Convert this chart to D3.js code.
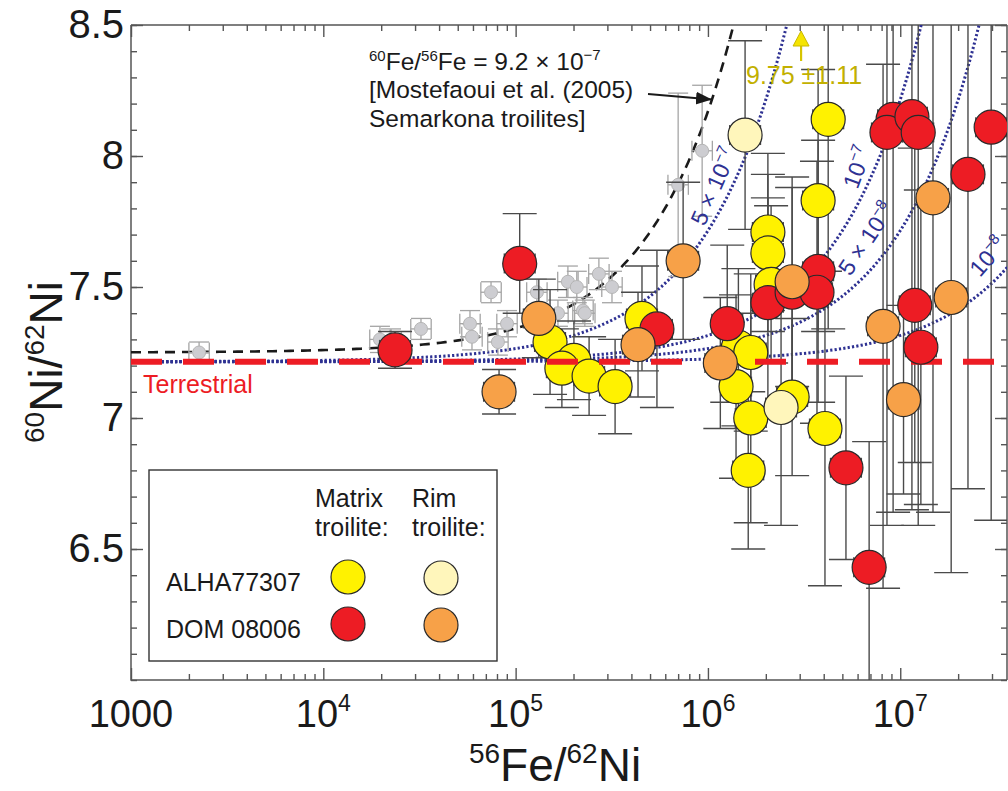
<!DOCTYPE html>
<html>
<head>
<meta charset="utf-8">
<script src="https://cdn.jsdelivr.net/npm/d3@7"></script>
<style>
  body { margin: 0; background: #fff; }
  svg { display: block; font-family: "Liberation Sans", Arial, sans-serif; }
</style>
</head>
<body>
<div id="chart"></div>
<script>
// 60Ni/62Ni vs 56Fe/62Ni in troilites

const width = 1008;
const height = 791;
const plot = {left: 131, right: 1007, top: 25, bottom: 680};

// tick labels
const feNiTicks = [1e3, 1e4, 1e5, 1e6, 1e7];
const niTicks = [6.5, 7, 7.5, 8, 8.5];

// reference lines
const terrestrialNi = 7.215;
const semarkonaSlope = 9.2e-7;
const semarkonaInitial = 7.25;
const isoSlopes = [5e-7, 1e-7, 5e-8, 1e-8];
const isoMant = ["5 × 10", "10", "5 × 10", "10"];
const isoExp = ["−7", "−7", "−8", "−8"];
const isoLabelFe = [9.6e5, 6.0e6, 5.5e6, 2.6e7];
const isoLabelNi = [7.729, 7.870, 7.538, 7.534];
const isoLabelAngle = [-66, -70, -56, -49];

// ALHA77307 matrix troilite
const alhaMatrixFe = [4.22e6, 3.74e6, 2.05e6, 2.05e6, 2.13e6, 1.44e6, 1.67e6, 1.40e6, 1.67e6, 1.62e6, 2.74e6, 4.06e6,
                      4.54e5, 1.51e5, 2.01e5, 1.74e5, 2.41e5, 3.29e5];
const alhaMatrixNi = [8.14, 7.83, 7.71, 7.63, 7.51, 7.27, 7.25, 7.12, 7.00, 6.80, 7.08, 6.96,
                      7.38, 7.29, 7.22, 7.19, 7.16, 7.12];
const alhaMatrixErr = [0.8, 0.5, 0.3, 0.3, 0.3, 0.3, 0.3, 0.35, 0.4, 0.3, 0.3, 0.6,
                       0.2, 0.2, 0.15, 0.15, 0.15, 0.18];

// ALHA77307 rim troilite
const alhaRimFe = [1.56e6, 2.40e6];
const alhaRimNi = [8.08, 7.04];
const alhaRimErr = [0.36, 0.45];

// DOM 08006 matrix troilite
const domMatrixFe = [1.05e5, 2.36e4, 5.43e5, 1.26e6, 2.05e6, 2.74e6, 3.74e6, 3.69e6, 5.22e6, 6.89e6,
                     9.18e6, 8.53e6, 1.15e7, 1.24e7, 2.97e7, 2.25e7, 1.19e7, 1.28e7];
const domMatrixNi = [7.59, 7.26, 7.34, 7.36, 7.44, 7.48, 7.56, 7.48, 6.81, 6.43,
                     8.14, 8.09, 8.15, 8.09, 8.11, 7.93, 7.43, 7.27];
const domMatrixErr = [0.19, 0.07, 0.3, 0.3, 0.4, 0.4, 0.5, 0.5, 0.35, 0.48,
                      1.5, 1.5, 1.5, 1.5, 1.5, 1.2, 0.6, 0.6];

// DOM 08006 rim troilite
const domRimFe = [7.43e5, 1.32e5, 8.2e4, 4.33e5, 1.16e6, 2.74e6, 1.48e7, 1.84e7, 8.14e6, 1.04e7];
const domRimNi = [7.60, 7.38, 7.10, 7.28, 7.21, 7.52, 7.84, 7.46, 7.35, 7.07];
const domRimErr = [0.3, 0.15, 0.085, 0.2, 0.25, 0.4, 1.2, 1.05, 1.0, 0.36];

// Semarkona troilites (Mostefaoui et al. 2005)
const semFe = [2260, 19700, 22500, 32200, 57900, 59300, 74500, 80900, 90200, 129000,
               166000, 187000, 208000, 224000, 229000, 271000, 317000, 700000, 933000];
const semNi = [7.25, 7.30, 7.29, 7.34, 7.36, 7.31, 7.48, 7.29, 7.36, 7.48,
               7.40, 7.52, 7.50, 7.41, 7.40, 7.55, 7.50, 7.89, 8.02];
const semErr = [0.04, 0.05, 0.05, 0.04, 0.05, 0.05, 0.04, 0.05, 0.05, 0.05,
                0.05, 0.06, 0.06, 0.05, 0.05, 0.06, 0.06, 0.35, 0.25];

// off-scale point
const offFe = 3.05e6;
const offLabel = "9.75 ±1.11";

const svg = d3.select("#chart").append("svg")
  .attr("width", width)
  .attr("height", height);

const x = d3.scaleLog().domain([1000, 3.59e7]).range([plot.left, plot.right]);
const y = d3.scaleLinear().domain([6.0, 8.5]).range([plot.bottom, plot.top]);

svg.append("clipPath").attr("id", "clip")
  .append("rect")
  .attr("x", plot.left).attr("y", plot.top)
  .attr("width", plot.right - plot.left).attr("height", plot.bottom - plot.top);

/* axes */

const xMinor = [];
feNiTicks.forEach(d => { for (let k = 2; k < 10; k++) if (d * k < 3.59e7) xMinor.push(d * k); });
const yMinor = d3.range(60, 86).map(v => v / 10);

function styleAxis(g) {
  g.select(".domain").remove();
  g.selectAll("line").attr("stroke", "#555").attr("stroke-width", 1.4);
}

svg.append("g").attr("transform", `translate(0,${plot.bottom})`)
  .call(d3.axisBottom(x).tickValues(xMinor).tickSize(-6).tickFormat("")).call(styleAxis);
svg.append("g").attr("transform", `translate(0,${plot.bottom})`)
  .call(d3.axisBottom(x).tickValues(feNiTicks).tickSize(-12).tickFormat("")).call(styleAxis);
svg.append("g").attr("transform", `translate(0,${plot.top})`)
  .call(d3.axisTop(x).tickValues(xMinor).tickSize(-6).tickFormat("")).call(styleAxis);
svg.append("g").attr("transform", `translate(0,${plot.top})`)
  .call(d3.axisTop(x).tickValues(feNiTicks).tickSize(-12).tickFormat("")).call(styleAxis);
svg.append("g").attr("transform", `translate(${plot.left},0)`)
  .call(d3.axisLeft(y).tickValues(yMinor).tickSize(-6).tickFormat("")).call(styleAxis);
svg.append("g").attr("transform", `translate(${plot.right},0)`)
  .call(d3.axisRight(y).tickValues(yMinor).tickSize(-6).tickFormat("")).call(styleAxis);
svg.append("g").attr("transform", `translate(${plot.right},0)`)
  .call(d3.axisRight(y).tickValues(niTicks).tickSize(-12).tickFormat("")).call(styleAxis);

const yAxis = svg.append("g").attr("transform", `translate(${plot.left},0)`)
  .call(d3.axisLeft(y).tickValues(niTicks).tickSize(-12).tickPadding(7).tickFormat(d => String(d)));
yAxis.call(styleAxis);
yAxis.selectAll("text")
  .attr("font-size", "40px")
  .attr("fill", "#1a1a1a")
  .attr("font-family", "'Liberation Sans', Arial, sans-serif");

// frame
svg.append("path")
  .attr("d", `M${plot.left},${plot.top}H${plot.right}M${plot.left},${plot.top}V${plot.bottom}H${plot.right}M${plot.right},${plot.top}V${plot.bottom}`)
  .attr("fill", "none").attr("stroke", "#555").attr("stroke-width", 1.5);

// x tick labels with exponents
const xLab = svg.append("g").attr("fill", "#1a1a1a");
feNiTicks.forEach(d => {
  const t = xLab.append("text").attr("x", x(d)).attr("y", 727)
    .attr("text-anchor", "middle").attr("font-size", "38px");
  if (d === 1000) {
    t.text("1000");
  } else {
    t.append("tspan").text("10");
    t.append("tspan").attr("font-size", "23px").attr("dy", -16).text(Math.round(Math.log10(d)));
  }
});

// axis titles
const xt = svg.append("text").attr("x", 555).attr("y", 781)
  .attr("text-anchor", "middle").attr("font-size", "46px").attr("fill", "#1a1a1a");
xt.append("tspan").attr("font-size", "28px").attr("dy", -18).text("56");
xt.append("tspan").attr("dy", 18).text("Fe/");
xt.append("tspan").attr("font-size", "28px").attr("dy", -18).text("62");
xt.append("tspan").attr("dy", 18).text("Ni");

const yt = svg.append("text").attr("transform", "translate(62,362) rotate(-90)")
  .attr("text-anchor", "middle").attr("font-size", "46px").attr("fill", "#1a1a1a");
yt.append("tspan").attr("font-size", "28px").attr("dy", -18).text("60");
yt.append("tspan").attr("dy", 18).text("Ni/");
yt.append("tspan").attr("font-size", "28px").attr("dy", -18).text("62");
yt.append("tspan").attr("dy", 18).text("Ni");

/* reference curves */

const plotArea = svg.append("g").attr("clip-path", "url(#clip)");
const curveFe = d3.range(0, 201).map(i => Math.pow(10, 3 + i * 4.6 / 200));

const curve = (slope, b) => d3.line()
  .x(d => x(d))
  .y(d => y(b + slope * d))(curveFe);

isoSlopes.forEach(s => {
  plotArea.append("path")
    .attr("d", curve(s, terrestrialNi))
    .attr("fill", "none")
    .attr("stroke", "#2e3192")
    .attr("stroke-width", 3)
    .attr("stroke-dasharray", "2.2,2.2");
});

plotArea.append("path")
  .attr("d", curve(semarkonaSlope, semarkonaInitial))
  .attr("fill", "none")
  .attr("stroke", "#1a1a1a")
  .attr("stroke-width", 2.6)
  .attr("stroke-dasharray", "10,7");

// isochron labels
isoSlopes.forEach((s, i) => {
  const t = svg.append("text")
    .attr("transform", `translate(${x(isoLabelFe[i])},${y(isoLabelNi[i])}) rotate(${isoLabelAngle[i]})`)
    .attr("font-size", "23px").attr("fill", "#2e3192");
  t.append("tspan").text(isoMant[i]);
  t.append("tspan").attr("font-size", "15px").attr("dy", -10).text(isoExp[i]);
});

/* Semarkona points */

const semIdx = d3.range(semFe.length);
const semG = plotArea.append("g").attr("stroke", "#a5a5a5").attr("stroke-width", 1.3);
semG.selectAll(null).data(semIdx).join("line")
  .attr("x1", i => x(semFe[i])).attr("x2", i => x(semFe[i]))
  .attr("y1", i => y(semNi[i] + semErr[i])).attr("y2", i => y(semNi[i] - semErr[i]));
semG.selectAll(null).data(semIdx).join("line")
  .attr("x1", i => x(semFe[i] / 1.13)).attr("x2", i => x(semFe[i] * 1.13))
  .attr("y1", i => y(semNi[i])).attr("y2", i => y(semNi[i]));
[1, -1].forEach(sgn => {
  semG.selectAll(null).data(semIdx).join("line")
    .attr("x1", i => x(semFe[i]) - 10).attr("x2", i => x(semFe[i]) + 10)
    .attr("y1", i => y(semNi[i] + sgn * semErr[i])).attr("y2", i => y(semNi[i] + sgn * semErr[i]));
  semG.selectAll(null).data(semIdx).join("line")
    .attr("x1", i => x(semFe[i] * Math.pow(1.13, sgn))).attr("x2", i => x(semFe[i] * Math.pow(1.13, sgn)))
    .attr("y1", i => y(semNi[i]) - 10).attr("y2", i => y(semNi[i]) + 10);
});
semG.selectAll(null).data(semIdx).join("circle")
  .attr("cx", i => x(semFe[i])).attr("cy", i => y(semNi[i])).attr("r", 6.5)
  .attr("fill", "#cdcdd1").attr("stroke", "#b5b5b5").attr("stroke-width", 1);

/* error bars for the four troilite groups */

const errG = plotArea.append("g").attr("stroke", "#4a4a4a").attr("stroke-width", 1.4);
function errorBars(fe, ni, err) {
  const idx = d3.range(fe.length);
  errG.selectAll(null).data(idx).join("line")
    .attr("x1", i => x(fe[i])).attr("x2", i => x(fe[i]))
    .attr("y1", i => y(ni[i] + err[i])).attr("y2", i => y(ni[i] - err[i]));
  [1, -1].forEach(sgn => {
    errG.selectAll(null).data(idx).join("line")
      .attr("x1", i => x(fe[i]) - 17).attr("x2", i => x(fe[i]) + 17)
      .attr("y1", i => y(ni[i] + sgn * err[i])).attr("y2", i => y(ni[i] + sgn * err[i]));
    errG.selectAll(null).data(idx).join("line")
      .attr("x1", i => x(fe[i] * Math.pow(10, sgn * 0.08))).attr("x2", i => x(fe[i] * Math.pow(10, sgn * 0.08)))
      .attr("y1", i => y(ni[i]) - 10).attr("y2", i => y(ni[i]) + 10);
  });
}
errorBars(alhaMatrixFe, alhaMatrixNi, alhaMatrixErr);
errorBars(alhaRimFe, alhaRimNi, alhaRimErr);
errorBars(domMatrixFe, domMatrixNi, domMatrixErr);
errorBars(domRimFe, domRimNi, domRimErr);

function dots(fe, ni, fill) {
  plotArea.append("g").selectAll(null).data(d3.range(fe.length)).join("circle")
    .attr("cx", i => x(fe[i])).attr("cy", i => y(ni[i])).attr("r", 17)
    .attr("fill", fill).attr("stroke", "#2a2a2a").attr("stroke-width", 1.2);
}

dots(alhaMatrixFe, alhaMatrixNi, "#fff200");
dots(alhaRimFe, alhaRimNi, "#fff6bb");

// terrestrial line
plotArea.append("line")
  .attr("x1", plot.left).attr("x2", plot.right)
  .attr("y1", y(terrestrialNi)).attr("y2", y(terrestrialNi))
  .attr("stroke", "#ed1c24").attr("stroke-width", 6)
  .attr("stroke-dasharray", "31,21");

dots(domMatrixFe, domMatrixNi, "#ed1c24");
dots(domRimFe, domRimNi, "#f7a148");

svg.append("text").attr("x", 143).attr("y", 393)
  .attr("font-size", "25px").attr("fill", "#ed1c24").text("Terrestrial");

/* annotations */

const note = svg.append("g").attr("font-size", "24.5px").attr("fill", "#1a1a1a");
const n1 = note.append("text").attr("x", 369).attr("y", 70);
n1.append("tspan").attr("font-size", "15px").attr("dy", -9).text("60");
n1.append("tspan").attr("dy", 9).text("Fe/");
n1.append("tspan").attr("font-size", "15px").attr("dy", -9).text("56");
n1.append("tspan").attr("dy", 9).text("Fe = 9.2 × 10");
n1.append("tspan").attr("font-size", "15px").attr("dy", -10).text("−7");
note.append("text").attr("x", 369).attr("y", 98).text("[Mostefaoui et al. (2005)");
note.append("text").attr("x", 369).attr("y", 127).text("Semarkona troilites]");

svg.append("defs").append("marker")
  .attr("id", "arrow").attr("viewBox", "0 0 10 10")
  .attr("refX", 10).attr("refY", 5)
  .attr("markerWidth", 16).attr("markerHeight", 16)
  .attr("markerUnits", "userSpaceOnUse")
  .attr("orient", "auto")
  .append("path").attr("d", "M0,1L10,5L0,9Z").attr("fill", "#1a1a1a");

const tipFe = 1.05e6;
svg.append("line")
  .attr("x1", 648).attr("y1", 94)
  .attr("x2", x(tipFe)).attr("y2", y(semarkonaInitial + semarkonaSlope * tipFe))
  .attr("stroke", "#1a1a1a").attr("stroke-width", 2)
  .attr("marker-end", "url(#arrow)");

// off-scale point marker
const ox = x(offFe);
svg.append("line").attr("x1", ox).attr("x2", ox).attr("y1", 61).attr("y2", 44)
  .attr("stroke", "#d6c400").attr("stroke-width", 2.2);
svg.append("path").attr("d", `M${ox - 8},${46}L${ox + 8},${46}L${ox},${31}Z`)
  .attr("fill", "#f5e400").attr("stroke", "#c9b800").attr("stroke-width", 1);
svg.append("text").attr("x", ox + 3).attr("y", 84).attr("text-anchor", "middle")
  .attr("font-size", "25px").attr("fill", "#c2b000").text(offLabel);

/* legend */

const lg = svg.append("g");
lg.append("rect").attr("x", 149).attr("y", 470).attr("width", 348).attr("height", 191)
  .attr("fill", "#fff").attr("stroke", "#333").attr("stroke-width", 1.4);
const lgText = lg.append("g").attr("font-size", "25px").attr("fill", "#1a1a1a");
lgText.append("text").attr("x", 315).attr("y", 507).text("Matrix");
lgText.append("text").attr("x", 315).attr("y", 536).text("troilite:");
lgText.append("text").attr("x", 412).attr("y", 507).text("Rim");
lgText.append("text").attr("x", 412).attr("y", 536).text("troilite:");
lgText.append("text").attr("x", 166).attr("y", 591).text("ALHA77307");
lgText.append("text").attr("x", 166).attr("y", 638).text("DOM 08006");
[[348, 577, "#fff200"], [441, 578, "#fff6bb"], [348, 624, "#ed1c24"], [441, 625, "#f7a148"]].forEach(c => {
  lg.append("circle").attr("cx", c[0]).attr("cy", c[1]).attr("r", 17)
    .attr("fill", c[2]).attr("stroke", "#2a2a2a").attr("stroke-width", 1.2);
});
</script>
</body>
</html>
